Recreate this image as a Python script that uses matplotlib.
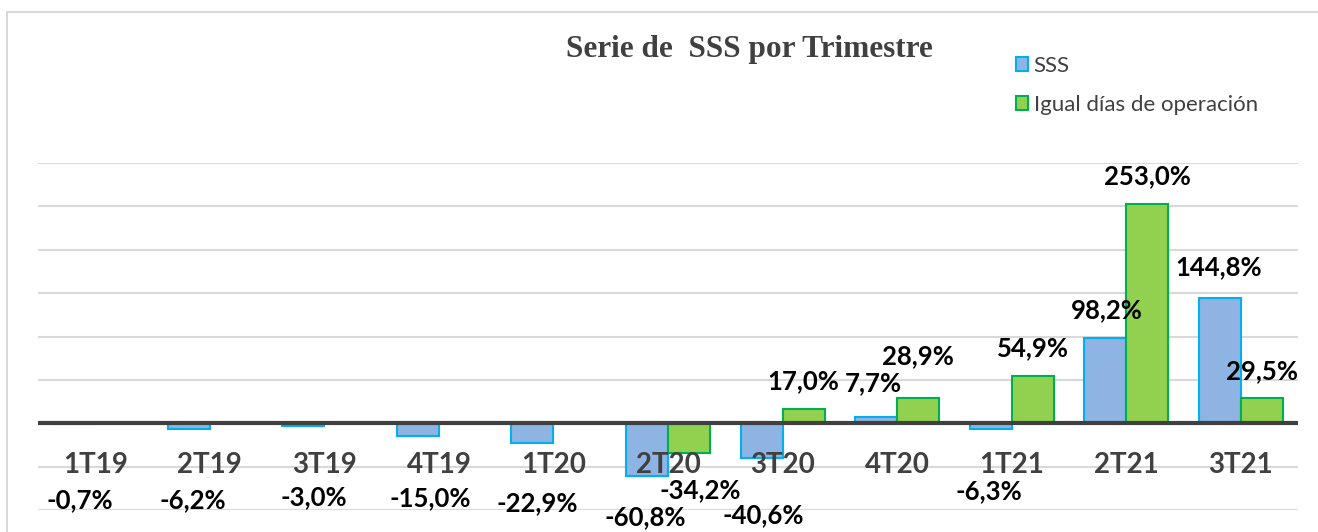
import matplotlib.pyplot as plt
from matplotlib.patches import Patch, Rectangle
import numpy as np

# data
trimestres = ['1T19', '2T19', '3T19', '4T19', '1T20', '2T20',
              '3T20', '4T20', '1T21', '2T21', '3T21']
sss = [-0.7, -6.2, -3.0, -15.0, -22.9, -60.8, -40.6, 7.7, -6.3, 98.2, 144.8]
igual_dias = [np.nan, np.nan, np.nan, np.nan, np.nan, -34.2,
              17.0, 28.9, 54.9, 253.0, 29.5]

# label offsets in pixels (dx, dy) from the bar end, as placed in the original
sss_offsets = [(6, -76), (4, -72), (10, -71), (12, -62), (5, -60), (-2, -41),
               (2, -57), (-3, 33), (-2, -62), (2, 28), (-1, 30)]
igual_offsets = [None, None, None, None, None, (11, -37),
                 (0, 27), (0, 42), (0, 27), (0, 28), (0, 27)]

W, H = 1318, 532
fig = plt.figure(figsize=(W / 100, H / 100), dpi=100)
ax = fig.add_axes([38 / W, (H - 510) / H, 1260 / W, 347 / H])

x = np.arange(len(trimestres))
bw = 0.367
ax.bar(x - bw / 2, sss, bw, color='#8EB4E3', edgecolor='#00B0F0', linewidth=1.5,
       label='SSS', zorder=3)
ax.bar(x + bw / 2, igual_dias, bw, color='#92D050', edgecolor='#00B050', linewidth=1.5,
       label='Igual días de operación', zorder=3)

ax.set_xlim(-0.5, len(trimestres) - 0.5)
ax.set_ylim(-100, 300)
for g in np.arange(-100, 301, 50):
    if g != 0:
        ax.axhline(g, color='#D9D9D9', lw=1.5, zorder=1)
ax.axhline(0, color='#404040', lw=3, zorder=4)
for s in ax.spines.values():
    s.set_visible(False)
ax.set_xticks([])
ax.set_yticks([])

lab_font = dict(family='Lato', weight='bold', size=18.5)
cat_font = dict(family='Lato', weight='bold', size=20)


def fmt(v):
    return f'{v:.1f}'.replace('.', ',') + '%'


for i, t in enumerate(trimestres):
    ax.text(i, -48, t, ha='center', va='center', color='#404040', zorder=5, **cat_font)

for i, v in enumerate(sss):
    dx, dy = sss_offsets[i]
    ax.annotate(fmt(v), xy=(i - bw / 2, v), xytext=(dx, dy), textcoords='offset pixels',
                ha='center', va='center', color='black', zorder=6, **lab_font)
for i, v in enumerate(igual_dias):
    if np.isnan(v):
        continue
    dx, dy = igual_offsets[i]
    ax.annotate(fmt(v), xy=(i + bw / 2, v), xytext=(dx, dy), textcoords='offset pixels',
                ha='center', va='center', color='black', zorder=6, **lab_font)

fig.text(749 / W, 1 - 50 / H, 'Serie de  SSS por Trimestre', ha='center', va='center',
         family='Liberation Serif', weight='bold', size=22.5, color='#404040')

handles = [Patch(facecolor='#8EB4E3', edgecolor='#00B0F0', lw=1.5),
           Patch(facecolor='#92D050', edgecolor='#00B050', lw=1.5)]
fig.legend(handles, ['SSS', 'Igual días de operación'], loc='upper left',
           bbox_to_anchor=(996 / W, 1 - 36 / H), frameon=False,
           prop=dict(family='Lato', size=16), handlelength=0.55, handleheight=0.55,
           handletextpad=0.25, labelspacing=0.85, labelcolor='#404040')

fig.patches.append(Rectangle((7 / W, -0.1), 1.2, 1.1 - 12 / H, transform=fig.transFigure,
                             facecolor='none', edgecolor='#D9D9D9', lw=1.5, zorder=0))

fig.savefig('out.png', dpi=100)
